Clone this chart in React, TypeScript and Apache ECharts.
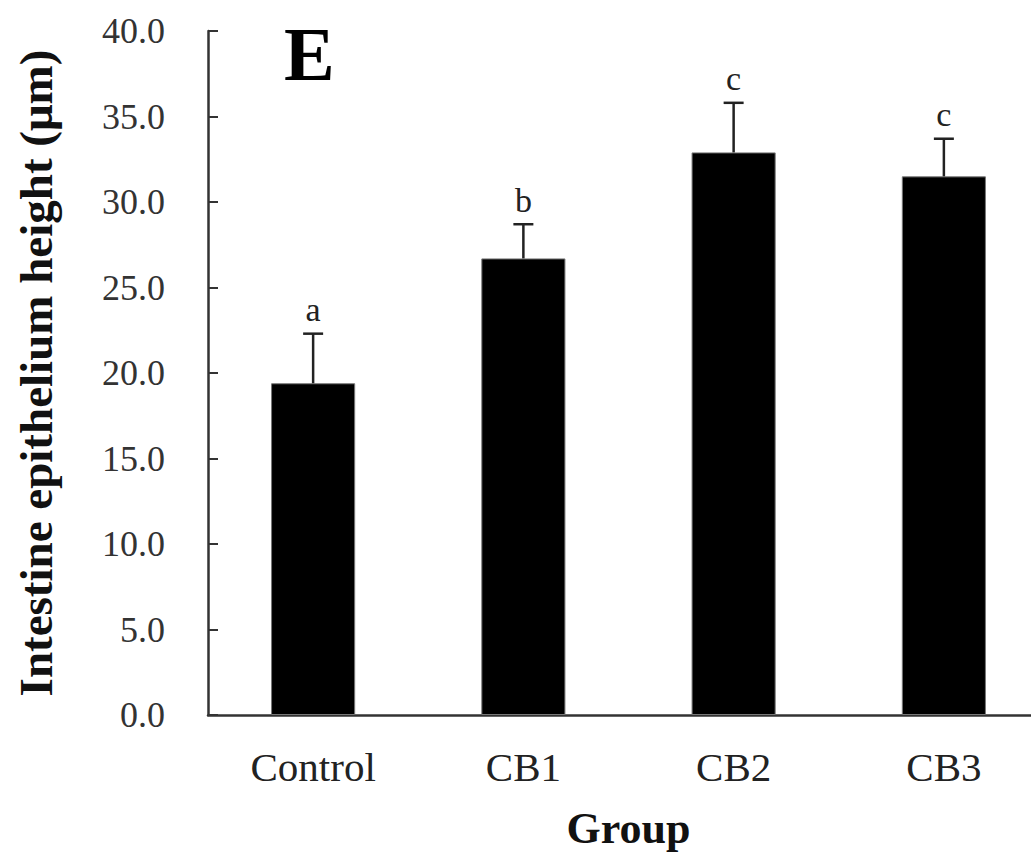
import React, { useEffect, useRef } from "react";
import * as echarts from "echarts";

const categories = ["Control", "CB1", "CB2", "CB3"];
const means = [19.4, 26.7, 32.9, 31.5];
const errors = [2.9, 2.0, 2.9, 2.2];
const letters = ["a", "b", "c", "c"];
const yTicks = [0, 5, 10, 15, 20, 25, 30, 35, 40];

const SERIF = "'Liberation Serif', 'Times New Roman', 'DejaVu Serif', serif";

export default function App() {
  const ref = useRef<HTMLDivElement>(null);
  useEffect(() => {
    if (!ref.current) return;
    const chart = echarts.init(ref.current, null, { renderer: "svg" });
    const errData = categories.map((_, i) => [i, means[i], means[i] + errors[i], letters[i]]);
    chart.setOption({
      animation: false,
      backgroundColor: "#ffffff",
      grid: { left: 208, top: 31, bottom: 133, right: 2, containLabel: false },
      xAxis: {
        type: "category",
        data: categories,
        name: "Group",
        nameLocation: "middle",
        nameGap: 91,
        nameTextStyle: { fontFamily: SERIF, fontSize: 44, fontWeight: "bold", color: "#111" },
        axisLine: { lineStyle: { color: "#333", width: 2.5 } },
        axisTick: { inside: true, length: 7, lineStyle: { color: "#333", width: 1.5 } },
        axisLabel: { fontFamily: SERIF, fontSize: 41, color: "#222", margin: 31 },
      },
      yAxis: {
        type: "value",
        min: 0,
        max: 40,
        interval: 5,
        name: "Intestine epithelium height (μm)",
        nameLocation: "middle",
        nameGap: 149,
        nameTextStyle: { fontFamily: SERIF, fontSize: 47, fontWeight: "bold", color: "#111" },
        axisLine: { show: true, lineStyle: { color: "#333", width: 2.5 } },
        axisTick: { show: true, inside: true, length: 10, lineStyle: { color: "#333", width: 2 } },
        splitLine: { show: false },
        axisLabel: {
          fontFamily: SERIF,
          fontSize: 36,
          color: "#333",
          margin: 43,
          formatter: (v: number) => (yTicks.includes(v) ? v.toFixed(1) : ""),
        },
      },
      graphic: [
        {
          type: "text",
          left: 284,
          top: 16,
          style: { text: "E", fontFamily: SERIF, fontSize: 76, fontWeight: "bold", fill: "#000" },
        },
      ],
      series: [
        {
          type: "bar",
          data: means,
          barWidth: "40%",
          itemStyle: { color: "#000", borderColor: "#777", borderWidth: 1 },
          z: 2,
        },
        {
          type: "custom",
          data: errData,
          z: 3,
          renderItem: (params: any, api: any) => {
            const i = api.value(0);
            const lo = api.coord([i, api.value(1)]);
            const hi = api.coord([i, api.value(2)]);
            const cap = 10;
            const style = { stroke: "#222", lineWidth: 2.5 };
            return {
              type: "group",
              children: [
                { type: "line", shape: { x1: lo[0], y1: lo[1], x2: hi[0], y2: hi[1] }, style },
                { type: "line", shape: { x1: hi[0] - cap, y1: hi[1], x2: hi[0] + cap, y2: hi[1] }, style },
                {
                  type: "text",
                  x: hi[0],
                  y: hi[1] - 7,
                  style: {
                    text: letters[params.dataIndex],
                    fontFamily: SERIF,
                    fontSize: 34,
                    fill: "#222",
                    align: "center",
                    verticalAlign: "bottom",
                  },
                },
              ],
            };
          },
        },
      ],
    });
    return () => chart.dispose();
  }, []);
  return (
    <div
      ref={ref}
      style={{ position: "fixed", left: 0, top: 0, width: 1051, height: 855, background: "#fff" }}
    />
  );
}
